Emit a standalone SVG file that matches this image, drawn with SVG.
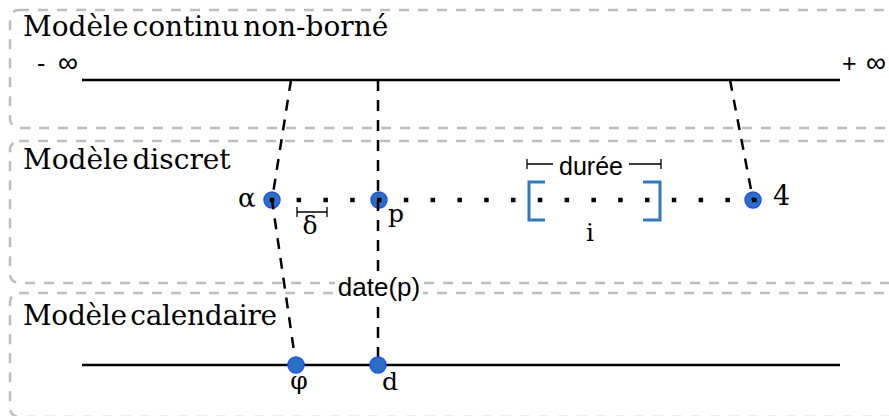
<svg xmlns="http://www.w3.org/2000/svg" width="889" height="416" viewBox="0 0 889 416">
<defs>
<style>
.box{fill:none;stroke:#bdbdbd;stroke-width:2.5;stroke-dasharray:10 9}
.axis{stroke:#000;stroke-width:2.5;fill:none}
.proj{stroke:#000;stroke-width:2.5;fill:none;stroke-dasharray:11 9}
.dots{stroke:#000;stroke-width:4.5;fill:none;stroke-dasharray:4.5 22.3}
.pt{fill:#2a6fc0;stroke:#1f4fff;stroke-width:1.5}
.br{fill:none;stroke:#2e78c4;stroke-width:3}
.meas{stroke:#000;stroke-width:1.3;fill:none}
.title{font-family:"DejaVu Serif","Liberation Serif",serif;font-size:28px;word-spacing:-5px;fill:#000}
.ser{font-family:"DejaVu Serif","Liberation Serif",serif;font-size:25px;fill:#000}
.sans{font-family:"Liberation Sans",Arial,sans-serif;font-size:25px;fill:#000}
</style>
</defs>
<g id="model-continu">
<rect class="box" x="10" y="10" width="900" height="118" rx="9"/>
<text class="title" x="23" y="36">Modèle continu non-borné</text>
<line class="axis" x1="82" y1="80" x2="840" y2="80"/>
<text class="sans" x="37" y="72">-<tspan x="58" style="font-size:28px">∞</tspan></text>
<text class="sans" x="842" y="72">+<tspan x="866" style="font-size:28px">∞</tspan></text>
</g>
<g id="model-discret">
<rect class="box" x="10" y="141" width="900" height="142" rx="9"/>
<text class="title" x="23" y="169">Modèle discret</text>
</g>
<g id="model-calendaire">
<rect class="box" x="10" y="293" width="900" height="124" rx="9"/>
<text class="title" x="23" y="325" style="letter-spacing:-0.3px">Modèle calendaire</text>
<line class="axis" x1="82" y1="365" x2="840" y2="365"/>
</g>
<g id="alpha">
<circle class="pt" cx="272" cy="200" r="8"/>
<text class="ser" x="238" y="207" style="font-size:26px">α</text>
</g>
<g id="p">
<circle class="pt" cx="379" cy="200" r="8"/>
<text class="ser" x="388" y="222">p</text>
</g>
<g id="omega">
<circle class="pt" cx="753" cy="200" r="8"/>
<text class="ser" x="773" y="205" style="font-size:27px">4</text>
</g>
<g id="connectors">
<path class="proj" d="M291,80 L272,200 L295,358"/>
<line class="proj" x1="378" y1="80" x2="378" y2="277"/>
<line class="proj" x1="378" y1="307" x2="378" y2="358"/>
<line class="proj" x1="730" y1="80" x2="753" y2="200"/>
</g>
<g id="phi">
<circle class="pt" cx="296" cy="365" r="8"/>
<text class="ser" x="299" y="389" text-anchor="middle">φ</text>
</g>
<g id="d">
<circle class="pt" cx="378" cy="365" r="8"/>
<text class="ser" x="382" y="390">d</text>
</g>
<g id="discrete-line">
<line class="dots" x1="269.8" y1="200" x2="760" y2="200"/>
</g>
<g id="interval">
<path class="br" d="M545,182 H529 V220 H545"/>
<path class="br" d="M643,182 H660 V220 H643"/>
<text class="ser" x="590" y="241" text-anchor="middle">i</text>
</g>
<g id="duree">
<path class="meas" d="M527,164 H553 M629,164 H661 M527,159 V169 M661,159 V169"/>
<text class="sans" x="591" y="175" text-anchor="middle">durée</text>
</g>
<g id="delta">
<path class="meas" d="M297,212 H327 M297,207 V217 M327,207 V217"/>
<text class="ser" x="310" y="234" text-anchor="middle">δ</text>
</g>
<g id="date-label">
<rect x="335" y="276" width="88" height="28" fill="#fff"/>
<text class="sans" x="379" y="296" text-anchor="middle" style="font-size:26px">date(p)</text>
</g>
</svg>
